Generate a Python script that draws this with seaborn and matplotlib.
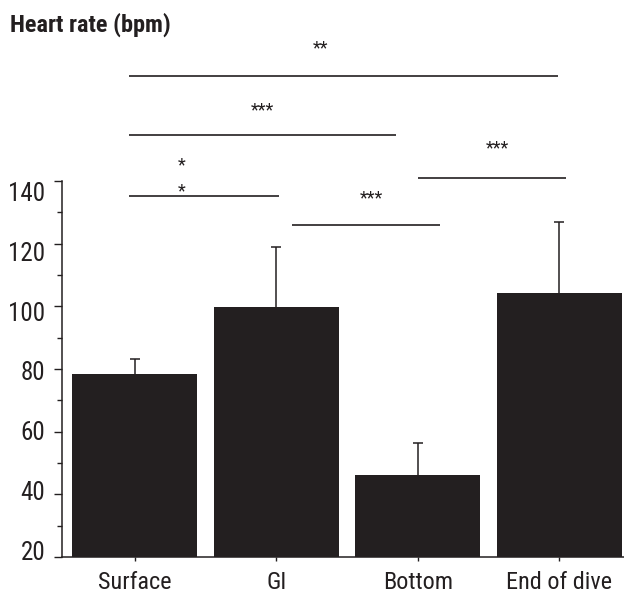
import matplotlib
matplotlib.use("Agg")
import matplotlib.pyplot as plt
import matplotlib.font_manager as fm
import matplotlib.transforms as mtransforms
import seaborn as sns
from matplotlib.ticker import MultipleLocator, FixedLocator

# ---- data ----
categories = ["Surface", "GI", "Bottom", "End of dive"]
mean_hr = [78.5, 99.8, 46.3, 104.1]
upper_hr = [83.3, 119.0, 56.5, 127.0]
y_ticks = [20, 40, 60, 80, 100, 120, 140]

# significance brackets (category-index units, heart-rate units)
sig_x1 = [-0.04, -0.04, 2.00, -0.04, 1.11]
sig_x2 = [2.99, 1.85, 3.05, 1.02, 2.16]
sig_y = [173.6, 154.7, 141.0, 135.2, 125.9]
star_text = ["**", "***", "***", "*", "*", "***"]
star_x = [1.31, 0.90, 2.56, 0.33, 0.33, 1.67]
star_y = [182.3, 162.5, 150.3, 144.9, 136.6, 134.6]

# ---- style ----
sns.set_style("ticks")
names = {f.name for f in fm.fontManager.ttflist}
preferred = ["Roboto Condensed", "Liberation Sans Narrow", "Arial Narrow",
             "Liberation Sans", "DejaVu Sans"]
base = next((n for n in preferred if n in names), "DejaVu Sans")
plt.rcParams["font.family"] = [base, "DejaVu Sans"]

ink = "#231f20"

fig = plt.figure(figsize=(6.24, 5.97), dpi=100)
ax = fig.add_axes([62 / 624, 1 - 557 / 597, 1 - 62 / 624, (557 - 181) / 597])

sns.barplot(x=categories, y=mean_hr, color=ink, saturation=1,
            width=0.883, linewidth=0, ax=ax, errorbar=None)

xpos = list(range(len(categories)))
err_up = [u - m for u, m in zip(upper_hr, mean_hr)]
_, caps, _ = ax.errorbar(xpos, mean_hr, yerr=[[0] * len(err_up), err_up],
                         fmt="none", ecolor=ink, elinewidth=1.1, capsize=3.3,
                         capthick=1.1, zorder=3)
caps[0].set_visible(False)

ax.set_xlim(-0.514, 3.458)
ax.set_ylim(20, 140)
ax.yaxis.set_major_locator(FixedLocator(y_ticks))
ax.yaxis.set_minor_locator(MultipleLocator(10))
ax.tick_params(axis="y", which="major", length=6, width=1.0, pad=6,
               labelsize=18, color=ink, labelcolor=ink)
ax.tick_params(axis="y", which="minor", length=3.5, width=1.0, color=ink)
ax.tick_params(axis="x", which="major", length=3, width=1.0, pad=7,
               labelsize=17.5, color=ink, labelcolor=ink)
ax.set_xlabel("")
ax.set_ylabel("")
for s in ["top", "right"]:
    ax.spines[s].set_visible(False)
for s in ["left", "bottom"]:
    ax.spines[s].set_linewidth(1.1)
    ax.spines[s].set_color(ink)

# the original's y labels are set slightly tighter than the ticks
for tick, v in zip(ax.yaxis.get_major_ticks(len(y_ticks)), y_ticks):
    off_px = -7 + 0.1475 * (v - 20)
    lbl = tick.label1
    lbl.set_transform(lbl.get_transform() +
                      mtransforms.ScaledTranslation(0, -off_px / 100,
                                                    fig.dpi_scale_trans))

# significance lines
for x1, x2, y in zip(sig_x1, sig_x2, sig_y):
    ax.plot([x1, x2], [y, y], color=ink, lw=1.2, clip_on=False,
            solid_capstyle="butt")
for t, x, y in zip(star_text, star_x, star_y):
    ax.text(x, y, t, ha="center", va="center", fontsize=13, color=ink,
            clip_on=False)

fig.text(10 / 624, 1 - 25 / 597, "Heart rate (bpm)", ha="left", va="center",
         fontsize=17.5, fontweight="bold", color=ink)

fig.savefig("out.png", dpi=100)
